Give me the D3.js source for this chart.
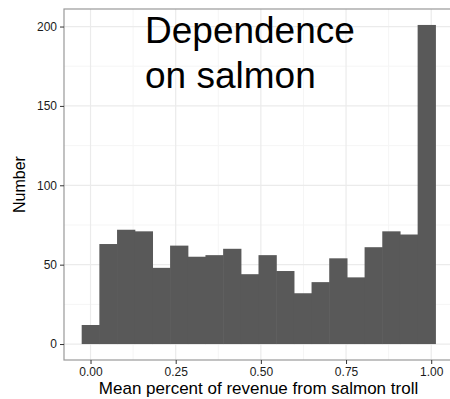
<!DOCTYPE html>
<html>
<head>
<meta charset="utf-8">
<script src="https://cdn.jsdelivr.net/npm/d3@7"></script>
<style>
  body { margin: 0; background: #fff; }
  svg { display: block; font-family: "Liberation Sans", Arial, sans-serif; }
</style>
</head>
<body>
<svg id="chart" width="450" height="399"></svg>
<script>
// Histogram counts, 20 bins (binwidth ~0.0519, first bin centred on 0)
const binStart = -0.02595;
const binWidth = 0.0519;
const counts = [12, 63, 72, 71, 48, 62, 55, 56, 60, 44, 56, 46, 32, 39, 54, 42, 61, 71, 69, 201];
const xTicks = [0, 0.25, 0.5, 0.75, 1];
const xMinor = [0.125, 0.375, 0.625, 0.875];
const yTicks = [0, 50, 100, 150, 200];
const yMinor = [25, 75, 125, 175];
const titleLines = ['Dependence', 'on salmon'];

const svg = d3.select('#chart');
const panel = { left: 64, right: 453, top: 9, bottom: 360 };

const bins = counts.map((c, i) => ({
    x0: binStart + i * binWidth,
    x1: binStart + (i + 1) * binWidth,
    n: c
}));

// ggplot-style 5% expansion
const xLo = bins[0].x0, xHi = bins[bins.length - 1].x1;
const xPad = (xHi - xLo) * 0.05;
const xScale = d3.scaleLinear()
    .domain([xLo - xPad, xHi + xPad])
    .range([panel.left, panel.right]);

const yMax = d3.max(counts);
const yScale = d3.scaleLinear()
    .domain([-yMax * 0.05, yMax * 1.05])
    .range([panel.bottom, panel.top]);

// Grid
const grid = svg.append('g');
xMinor.forEach(v => grid.append('line')
    .attr('x1', xScale(v)).attr('x2', xScale(v))
    .attr('y1', panel.top).attr('y2', panel.bottom)
    .style('stroke', '#f5f5f5').style('stroke-width', 1));
yMinor.forEach(v => grid.append('line')
    .attr('x1', panel.left).attr('x2', panel.right)
    .attr('y1', yScale(v)).attr('y2', yScale(v))
    .style('stroke', '#f5f5f5').style('stroke-width', 1));
xTicks.forEach(v => grid.append('line')
    .attr('x1', xScale(v)).attr('x2', xScale(v))
    .attr('y1', panel.top).attr('y2', panel.bottom)
    .style('stroke', '#ebebeb').style('stroke-width', 1.2));
yTicks.forEach(v => grid.append('line')
    .attr('x1', panel.left).attr('x2', panel.right)
    .attr('y1', yScale(v)).attr('y2', yScale(v))
    .style('stroke', '#ebebeb').style('stroke-width', 1.2));

// Bars
svg.append('g').selectAll('rect')
    .data(bins)
    .enter().append('rect')
    .attr('x', d => xScale(d.x0))
    .attr('width', d => xScale(d.x1) - xScale(d.x0) + 0.6)
    .attr('y', d => yScale(d.n))
    .attr('height', d => yScale(0) - yScale(d.n))
    .style('fill', '#595959');

// Panel border
svg.append('rect')
    .attr('x', panel.left).attr('y', panel.top)
    .attr('width', panel.right - panel.left)
    .attr('height', panel.bottom - panel.top)
    .style('fill', 'none')
    .style('stroke', '#999')
    .style('stroke-width', 1.2);

// Axes
const xAxis = svg.append('g')
    .attr('transform', `translate(0,${panel.bottom})`)
    .call(d3.axisBottom(xScale).tickValues(xTicks).tickFormat(d3.format('.2f')).tickSize(4).tickPadding(3));
const yAxis = svg.append('g')
    .attr('transform', `translate(${panel.left},0)`)
    .call(d3.axisLeft(yScale).tickValues(yTicks).tickSize(4).tickPadding(3));
[xAxis, yAxis].forEach(a => {
    a.select('.domain').remove();
    a.selectAll('line').style('stroke', '#333');
    a.selectAll('text')
        .style('font-family', '"Liberation Sans", Arial, sans-serif')
        .style('font-size', '12px')
        .style('fill', '#1a1a1a');
});

// Axis titles
svg.append('text')
    .attr('x', (panel.left + panel.right) / 2)
    .attr('y', 394)
    .style('text-anchor', 'middle')
    .style('font-size', '17px')
    .style('fill', '#000')
    .text('Mean percent of revenue from salmon troll');

svg.append('text')
    .attr('transform', `translate(25,${(panel.top + panel.bottom) / 2}) rotate(-90)`)
    .style('text-anchor', 'middle')
    .style('font-size', '16px')
    .style('fill', '#000')
    .text('Number');

// Annotation
const note = svg.append('text')
    .attr('x', 145)
    .style('font-size', '37px')
    .style('fill', '#000');
titleLines.forEach((t, i) => note.append('tspan')
    .attr('x', 145)
    .attr('y', 43 + i * 45)
    .text(t));
</script>
</body>
</html>
